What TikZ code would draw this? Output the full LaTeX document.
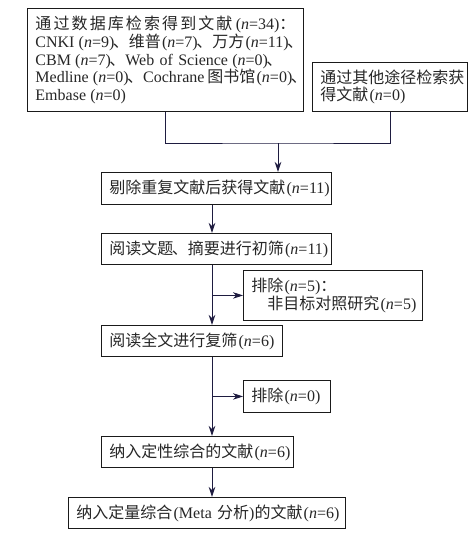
\documentclass[tikz,border=0pt]{standalone}
\usepackage{fontspec}
\setmainfont{Liberation Serif}
\newfontfamily\cjk{Noto Sans CJK SC}
\usepackage{xcolor}
\usetikzlibrary{arrows.meta}
\pgfdeclarelayer{bg}
\pgfsetlayers{bg,main}
\definecolor{boxstroke}{HTML}{1A1A1A}
\definecolor{edgenavy}{HTML}{1E1C40}
\definecolor{textgray}{HTML}{262626}
\newcommand{\la}[1]{{\rmfamily #1}}
\newcommand{\nrec}[1]{{\rmfamily\kern1.2pt(\textit{n}=#1)}}
\newcommand{\dun}{\kern-1.5pt、}

\begin{document}
\begin{tikzpicture}[
  x=1pt,
  y=-1pt,
  box/.style={
    draw=boxstroke,
    line width=0.9pt,
    anchor=north west,
    align=left,
    inner xsep=8pt,
    inner ysep=0pt,
    text=textgray,
    font=\cjk\fontsize{16}{17.7}\selectfont
  },
  branch/.style={
    draw=edgenavy,
    line width=0.9pt
  },
  flow/.style={
    branch,
    -{Stealth[length=10pt,width=6.5pt,inset=3pt]}
  }
]

\path[use as bounding box] (0,0) rectangle (476,535);

% Sources
\node[box, minimum width=276pt, minimum height=103pt, text width=260pt] (dbsearch) at (27,8)
{{\spaceskip=0pt plus 1fil\makebox[\hsize][s]{通 过 数 据 库 检 索 得 到 文 献 \nrec{34}：}}\\
\mbox{\la{CNKI\kern3pt}\nrec{9}\dun 维普\nrec{7}\dun 万方\nrec{11}\dun}\\
\mbox{\la{CBM\kern3pt}\nrec{7}\dun\la{Web of Science\kern3pt}\nrec{0}\dun}\\
\mbox{\la{Medline\kern3pt}\nrec{0}\dun\la{Cochrane\kern3pt}图书馆\nrec{0}\dun}\\
\mbox{\la{Embase\kern3pt}\nrec{0}}};
\node[box, minimum width=155pt, minimum height=49pt, text width=139pt] (othersrc) at (312,62)
{\mbox{通过其他途径检索获}\\得文献\nrec{0}};

% Screening steps
\node[box, minimum width=230pt, minimum height=32pt, text width=214pt] (dedup) at (101,172)
{剔除重复文献后获得文献\nrec{11}};
\node[box, minimum width=230pt, minimum height=31pt, text width=214pt] (screen) at (101,233)
{阅读文题\dun 摘要进行初筛\nrec{11}};
\node[box, minimum width=181pt, minimum height=31pt, text width=165pt] (fulltext) at (101,325)
{阅读全文进行复筛\nrec{6}};
\node[box, minimum width=192pt, minimum height=31pt, text width=176pt] (qualit) at (101,436)
{纳入定性综合的文献\nrec{6}};
\node[box, minimum width=277pt, minimum height=31pt, text width=261pt] (quantit) at (68,497)
{\mbox{纳入定量综合\la{\kern1.2pt(Meta }分析\la{)}的文献\nrec{6}}};

% Exclusions
\node[box, minimum width=179pt, minimum height=50pt, text width=163pt] (excl1) at (243,270)
{排除\nrec{5}：\\\hspace*{1em}非目标对照研究\nrec{5}};
\node[box, minimum width=87pt, minimum height=32pt, text width=71pt] (excl2) at (243,380)
{排除\nrec{0}};

\begin{pgfonlayer}{bg}

% Merge of sources
\coordinate (srcjoin) at (278,143);
\coordinate (spine) at (212,0);
\draw[branch] (dbsearch.south) |- (srcjoin) -| (othersrc.south);
\draw[flow] (srcjoin) -- (srcjoin |- dedup.north);

% Main flow
\draw[flow] (dedup.south -| spine) -- (screen.north -| spine);
\draw[flow] (screen.south -| spine) -- (fulltext.north -| spine);
\draw[flow] (fulltext.south -| spine) -- (qualit.north -| spine);
\draw[flow] (qualit.south -| spine) -- (quantit.north -| spine);

% Exclusion branches
\draw[flow] (excl1.west -| spine) -- (excl1.west);
\draw[flow] (excl2.west -| spine) -- (excl2.west);

\end{pgfonlayer}

\end{tikzpicture}
\end{document}
